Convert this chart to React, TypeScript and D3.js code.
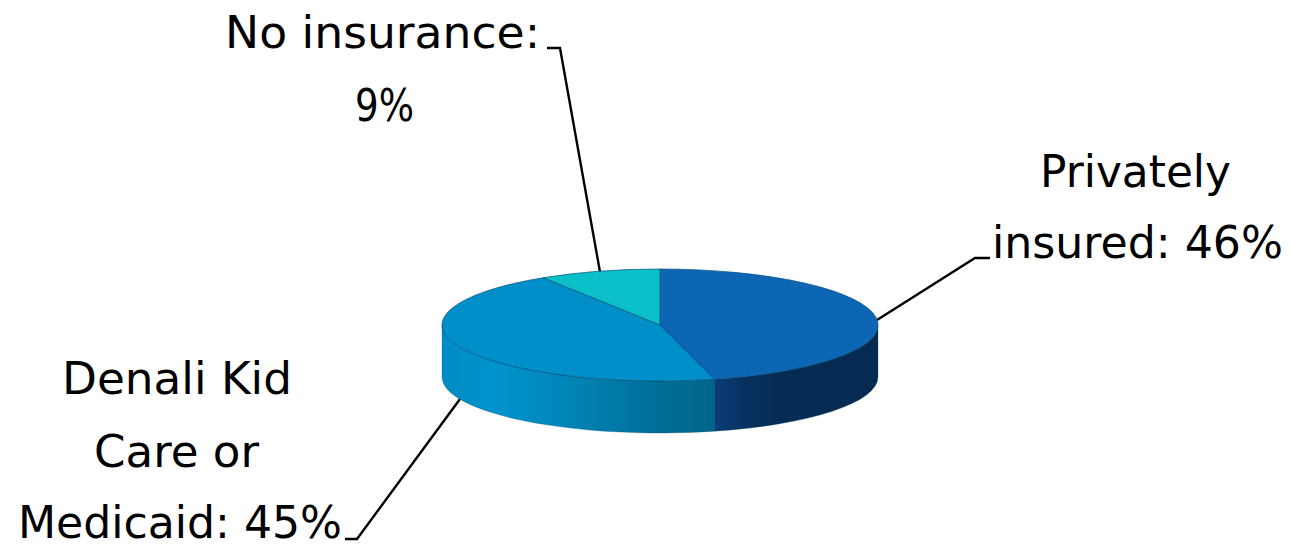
import React from "react";
import * as d3 from "d3";

const categories = ["Privately insured", "Denali Kid Care or Medicaid", "No insurance"];
const values = [46, 45, 9];
const topColors = ["#0c66b4", "#008fc8", "#0abfc8"];
const labelLines = [
  ["Privately", "insured: 46%"],
  ["Denali Kid", "Care or", "Medicaid: 45%"],
  ["No insurance:", "9%"],
];
const labelX = [
  [1135.5, 1137.5],
  [177, 176.5, 180],
  [382.5, 384.5],
];
const labelWidths = [
  [191, 291],
  [230, 165, 324],
  [315, 59],
];
const labelBaselines = [
  [187, 258],
  [394, 467, 538],
  [48, 121],
];
const leaders = [
  [[877, 320], [975, 258], [990, 258]],
  [[460, 399], [357, 539], [345, 539]],
  [[600, 272], [560, 48], [547, 48]],
];
const sideStops = [
  [[0, "#0c3c7c"], [0.2, "#06305f"], [0.42, "#052b52"], [1, "#052b52"]],
  [[0, "#008cc4"], [0.2, "#0093cb"], [0.45, "#0086b8"], [0.75, "#00709c"], [1, "#006688"]],
];

const W = 1291, H = 545;
const cx = 660, cy = 325, rx = 218, ry = 56, depth = 52;
const FONT = "'DejaVu Sans', sans-serif";

export default function App() {
  const arcs = d3.pie<number>().sort(null)(values);
  const R = 100;
  const arc = d3.arc<d3.PieArcDatum<number>>().innerRadius(0).outerRadius(R);
  const sx = d3.scaleLinear().domain([-1, 1]).range([cx - rx, cx + rx]);
  const sy = d3.scaleLinear().domain([-1, 1]).range([cy - ry, cy + ry]);
  const px = (a: number) => sx(Math.sin(a));
  const py = (a: number) => sy(-Math.cos(a));

  // Visible side walls: the front half of each slice (angles between 90deg and 270deg)
  const sideWall = (a0: number, a1: number) => {
    const s = Math.max(a0, Math.PI / 2);
    const e = Math.min(a1, (3 * Math.PI) / 2);
    if (e <= s) return null;
    const d =
      `M${px(s)},${py(s)}` +
      `A${rx},${ry} 0 0 1 ${px(e)},${py(e)}` +
      `L${px(e)},${py(e) + depth}` +
      `A${rx},${ry} 0 0 0 ${px(s)},${py(s) + depth}Z`;
    return { d, x0: Math.min(px(s), px(e)), x1: Math.max(px(s), px(e)) };
  };

  const walls = arcs.map((a) => sideWall(a.startAngle, a.endAngle));
  const line = d3.line();

  return (
    <svg width={W} height={H} style={{ position: "absolute", left: 0, top: 0, background: "#fff" }}>
      <defs>
        {walls.map((w, i) =>
          w ? (
            <linearGradient key={i} id={`side${i}`} gradientUnits="userSpaceOnUse" x1={w.x0} x2={w.x1} y1={0} y2={0}>
              {sideStops[i].map(([o, c], j) => (
                <stop key={j} offset={o as number} stopColor={c as string} />
              ))}
            </linearGradient>
          ) : null
        )}
      </defs>
      {leaders.map((l, i) => (
        <path key={i} d={line(l as [number, number][]) as string} fill="none" stroke="#000" strokeWidth={2.4} />
      ))}
      {walls.map((w, i) =>
        w ? <path key={i} d={w.d} fill={`url(#side${i})`} stroke="#04405f" strokeOpacity={0.35} strokeWidth={0.8} /> : null
      )}
      <g transform={`translate(${cx},${cy}) scale(${rx / R},${ry / R})`}>
        {arcs.map((a, i) => (
          <path
            key={categories[i]}
            d={arc(a) as string}
            fill={topColors[i]}
            stroke="#04507a"
            strokeOpacity={0.7}
            strokeWidth={1}
            vectorEffect="non-scaling-stroke"
          />
        ))}
      </g>
      {labelLines.map((lines, i) =>
        lines.map((t, j) => (
          <text
            key={t}
            x={labelX[i][j]}
            y={labelBaselines[i][j]}
            textAnchor="middle"
            fontFamily={FONT}
            fontSize={45}
            fill="#000"
            textLength={labelWidths[i][j]}
            lengthAdjust="spacingAndGlyphs"
          >
            {t}
          </text>
        ))
      )}
    </svg>
  );
}
